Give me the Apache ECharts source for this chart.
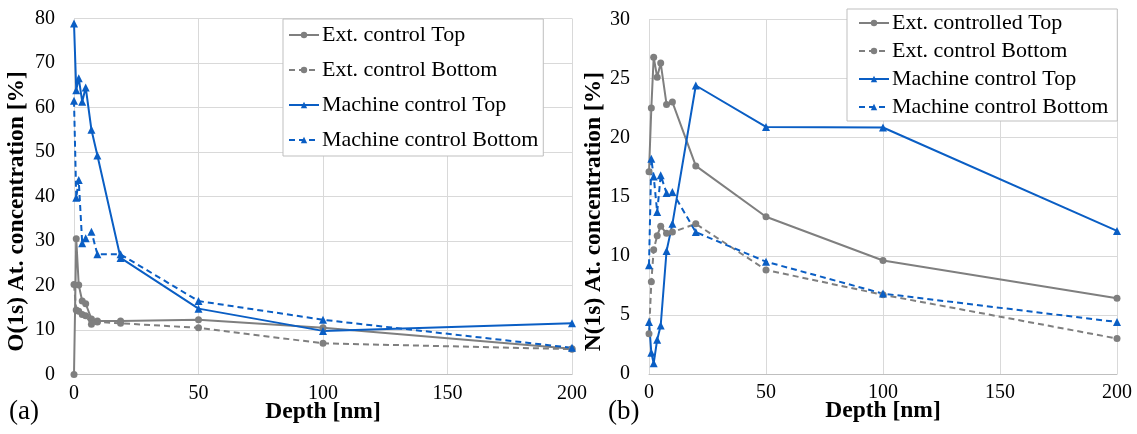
<!DOCTYPE html>
<html>
<head>
<meta charset="utf-8">
<script src="https://cdn.jsdelivr.net/npm/echarts@6/dist/echarts.min.js"></script>
<style>
  html, body { margin: 0; padding: 0; background: #fff; }
  #chart { width: 1137px; height: 434px; }
</style>
</head>
<body>
<div id="chart"></div>
<script>
// panel (a): O(1s)
var depthA = [0, 0.9, 1.9, 3.3, 4.7, 7, 9.4, 18.7, 50, 100, 200];
var extTopA = [0, 30.5, 20.1, 16.5, 15.9, 12.5, 12.0, 12.0, 12.3, 10.5, 5.8];
var extBotA = [20.2, 14.5, 14.2, 13.5, 13.2, 11.3, 11.8, 11.5, 10.5, 7.0, 5.7];
var mcTopA = [78.9, 63.9, 66.6, 61.3, 64.5, 55.0, 49.2, 26.2, 14.8, 9.8, 11.5];
var mcBotA = [61.5, 39.7, 43.7, 29.5, 30.6, 32.1, 27.0, 27.0, 16.5, 12.3, 6.0];

// panel (b): N(1s)
var depthB = [0, 1, 2, 3.5, 5, 7.5, 10, 20, 50, 100, 200];
var extTopB = [17.1, 22.5, 26.8, 25.1, 26.3, 22.8, 23.0, 17.6, 13.3, 9.6, 6.4];
var extBotB = [3.4, 7.8, 10.5, 11.7, 12.5, 11.9, 12.0, 12.7, 8.8, 6.7, 3.0];
var mcTopB = [4.4, 1.8, 0.9, 2.9, 4.1, 10.4, 12.7, 24.4, 20.9, 20.85, 12.1];
var mcBotB = [9.2, 18.2, 16.7, 13.7, 16.8, 15.3, 15.4, 12.0, 9.5, 6.8, 4.4];

var namesA = ['Ext. control Top', 'Ext. control Bottom', 'Machine control Top', 'Machine control Bottom'];
var namesB = ['Ext. controlled Top', 'Ext. control Bottom', 'Machine control Top', 'Machine control Bottom'];

var GRAY = '#7f7f7f';
var BLUE = '#0a5ec4';
var SERIF = '"Liberation Serif", "Times New Roman", serif';

function pairs(xs, ys) {
    return xs.map(function (x, i) { return [x, ys[i]]; });
}

function line(name, idx, xs, ys, color, dashed, symbol) {
    return {
        name: name,
        type: 'line',
        xAxisIndex: idx,
        yAxisIndex: idx,
        data: pairs(xs, ys),
        symbol: symbol,
        symbolSize: symbol === 'circle' ? 7 : 8,
        color: color,
        lineStyle: { color: color, width: 2, type: dashed ? [6, 4] : 'solid' },
        itemStyle: { color: color },
        animation: false
    };
}

function xAxis(idx) {
    return {
        type: 'value', gridIndex: idx, min: 0, max: 200, interval: 50,
        name: 'Depth [nm]', nameLocation: 'middle', nameGap: 25, nameMoveOverlap: false,
        nameTextStyle: { fontFamily: SERIF, fontWeight: 'bold', fontSize: 23.5, color: '#000' },
        axisLine: { show: true, lineStyle: { color: '#bfbfbf', width: 1 } },
        axisTick: { show: false },
        axisLabel: { fontFamily: SERIF, fontSize: 20, color: '#000', margin: 9 },
        splitLine: { show: true, lineStyle: { color: '#d9d9d9', width: 1 } }
    };
}

function yAxis(idx, max, interval, name, gap) {
    return {
        type: 'value', gridIndex: idx, min: 0, max: max, interval: interval,
        name: name, nameLocation: 'middle', nameGap: gap,
        // shift the rotated title a bit downwards, like the original
        nameTextStyle: { fontFamily: SERIF, fontWeight: 'bold', fontSize: 23.5, color: '#000', padding: [0, 30, 0, 0] },
        axisLine: { show: false },
        axisTick: { show: false },
        axisLabel: { fontFamily: SERIF, fontSize: 20, color: '#000', margin: 19 },
        splitLine: { show: true, lineStyle: { color: '#d9d9d9', width: 1 } }
    };
}

function legend(names, left, top, gap, pad) {
    return {
        data: names,
        orient: 'vertical',
        left: left, top: top,
        itemWidth: 30, itemHeight: 8, itemGap: gap,
        padding: pad,
        borderColor: '#bfbfbf', borderWidth: 1,
        backgroundColor: '#fff',
        textStyle: { fontFamily: SERIF, fontSize: 22, color: '#000', lineHeight: 22, padding: [0, 0, 0, -2] }
    };
}

var chart = echarts.init(document.getElementById('chart'), null, { renderer: 'canvas' });

var option = {
    backgroundColor: '#fff',
    animation: false,
    title: [
        { text: '(a)', left: 4, top: 393, textStyle: { fontFamily: SERIF, fontSize: 27, fontWeight: 'normal', color: '#000' } },
        { text: '(b)', left: 603, top: 393, textStyle: { fontFamily: SERIF, fontSize: 27, fontWeight: 'normal', color: '#000' } }
    ],
    grid: [
        { left: 74, right: 565, top: 18.5, bottom: 59.5, outerBoundsMode: 'none' },
        { left: 649, right: 20, top: 19.3, bottom: 60, outerBoundsMode: 'none' }
    ],
    xAxis: [xAxis(0), xAxis(1)],
    yAxis: [
        yAxis(0, 80, 10, 'O(1s) At. concentration [%]', 45),
        yAxis(1, 30, 5, 'N(1s) At. concentration [%]', 42)
    ],
    legend: [
        legend(namesA, 283, 19, 13, [5, 5, 5, 5]),
        legend(namesB, 847, 9, 6, [3, 9, 3, 11])
    ],
    series: [
        line('Ext. control Top', 0, depthA, extTopA, GRAY, false, 'circle'),
        line('Ext. control Bottom', 0, depthA, extBotA, GRAY, true, 'circle'),
        line('Machine control Top', 0, depthA, mcTopA, BLUE, false, 'triangle'),
        line('Machine control Bottom', 0, depthA, mcBotA, BLUE, true, 'triangle'),
        line('Ext. controlled Top', 1, depthB, extTopB, GRAY, false, 'circle'),
        line('Ext. control Bottom', 1, depthB, extBotB, GRAY, true, 'circle'),
        line('Machine control Top', 1, depthB, mcTopB, BLUE, false, 'triangle'),
        line('Machine control Bottom', 1, depthB, mcBotB, BLUE, true, 'triangle')
    ]
};

chart.setOption(option);
window.addEventListener('resize', chart.resize);
</script>
</body>
</html>
